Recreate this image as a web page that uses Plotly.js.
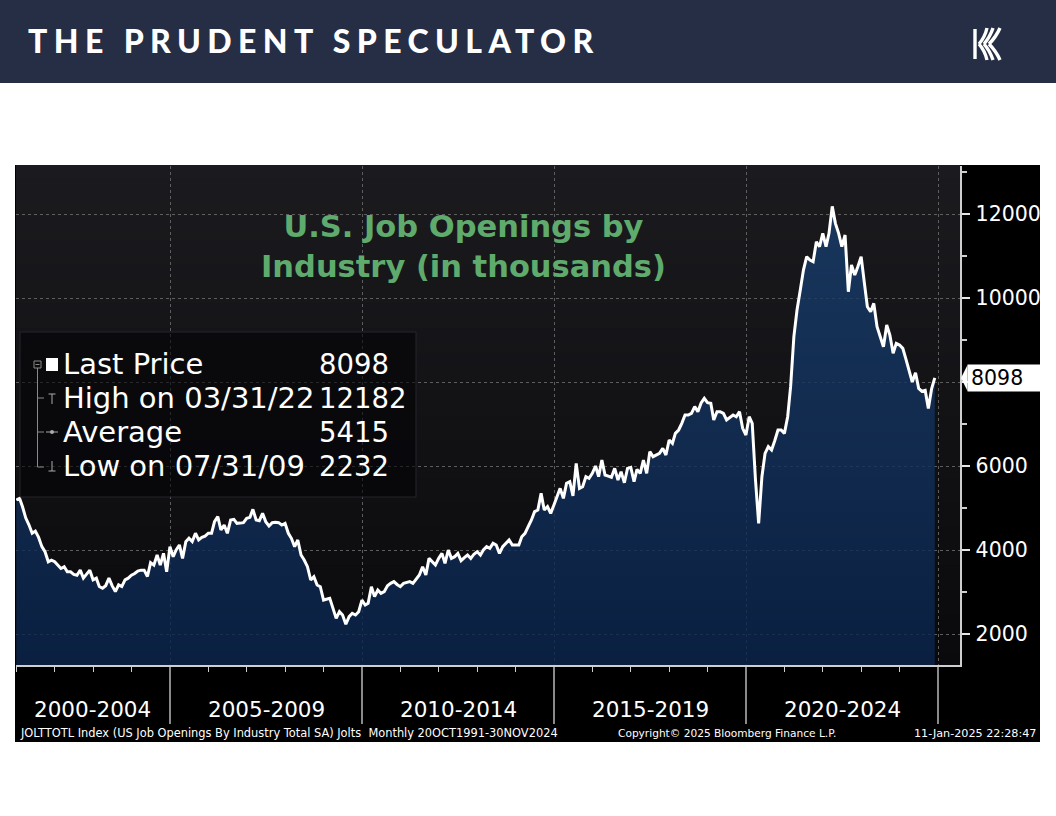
<!DOCTYPE html>
<html><head><meta charset="utf-8">
<script src="https://cdn.plot.ly/plotly-3.0.1.min.js"></script>
<style>
html,body{margin:0;padding:0;background:#fff;}
#wrap{position:relative;width:1056px;height:816px;overflow:hidden;}
#chart{position:absolute;left:0;top:0;width:1056px;height:816px;}
#hdr{position:absolute;left:0;top:0;width:1056px;height:83px;background:#252e45;z-index:5;}
#hdr .t{position:absolute;left:28px;top:23px;font-family:Lato,'DejaVu Sans',sans-serif;font-weight:900;font-size:32px;letter-spacing:6.4px;color:#fff;line-height:36px;white-space:nowrap;}
#hdr svg{position:absolute;left:971px;top:26px;}
</style></head><body>
<div id="wrap">
<div id="chart"></div>
<div id="hdr"><div class="t">THE PRUDENT SPECULATOR</div>
<svg width="34" height="36" viewBox="0 0 34 36"><g stroke="#fff" stroke-width="3.4" fill="none">
<path d="M4 3 L4 33"/>
<path d="M8 18 Q14 11 16 2"/><path d="M13 18 Q19 11 22 2"/><path d="M18 18 Q25 11 29 2"/>
<path d="M8 18 Q14 25 16 34"/><path d="M13 18 Q19 25 22 34"/><path d="M18 18 Q25 25 29 34"/>
</g></svg></div>
</div>
<script>
// ---- data (thousands), monthly, month-end, Dec 2000 .. Nov 2024 ----
const v2000 = [5190];
const v2001 = [5230,5030,4760,4600,4400,4450,4300,4080,3960,3720,3760,3720];
const v2002 = [3640,3560,3600,3480,3480,3420,3400,3520,3330,3440,3520,3290];
const v2003 = [3330,3130,3090,3150,3330,3150,3010,3170,3130,3290,3330,3400];
const v2004 = [3440,3500,3520,3520,3370,3700,3640,3880,3640,3920,3480,4080];
const v2005 = [3840,4000,4120,3800,4200,4280,4200,4400,4240,4300,4330,4400];
const v2006 = [4400,4675,4794,4476,4595,4397,4714,4730,4635,4640,4651,4754];
const v2007 = [4778,4968,4714,4698,4873,4675,4571,4651,4660,4651,4595,4635];
const v2008 = [4397,4278,4079,4238,3881,3762,3603,3286,3365,3167,3127,2809];
const v2009 = [2830,2849,2611,2373,2532,2452,2232,2413,2492,2452,2532,2809];
const v2010 = [2690,2730,3127,2889,3048,2968,3008,3150,3206,3246,3180,3127];
const v2011 = [3206,3220,3246,3206,3300,3405,3603,3405,3801,3722,3643,3801];
const v2012 = [3920,3682,4000,3801,3841,3920,3746,3820,3881,3801,3900,3960];
const v2013 = [3881,4000,4079,4040,4159,4119,3920,4079,4159,4238,4119,4119];
const v2014 = [4119,4317,4397,4556,4714,4913,4952,5349,4952,5032,4873,5071];
const v2015 = [5310,5468,5230,5587,5627,5290,6063,5468,5508,5746,5706,5825];
const v2016 = [6000,5746,6143,5786,5760,5730,5944,5667,5865,5600,5944,5968];
const v2017 = [5627,5920,5825,6143,5825,6341,6222,6260,6301,6420,6262,6619];
const v2018 = [6540,6778,6857,7016,7214,7214,7254,7413,7294,7500,7611,7508];
const v2019 = [7492,7095,7294,7294,7254,7095,7160,7214,7174,7294,6897,6738];
const v2020 = [7174,7015,5666,4634,5745,6301,6460,6380,6600,6857,6857,6777];
const v2021 = [7174,7888,9079,9714,10190,10666,10984,10904,10864,11341,11222,11539];
const v2022 = [11222,11539,12182,11777,11539,11222,11500,10150,10785,10547,10750,10984];
const v2023 = [10349,9793,9674,9872,9317,9079,8841,9357,9119,8682,8920,8880];
const v2024 = [8801,8550,8300,8000,8222,7849,7780,7800,7372,7839,8098];

const periods = ['2000-2004','2005-2009','2010-2014','2015-2019','2020-2024'];
const periodStartYears = [2000,2005,2010,2015,2020];
const yTickVals = [2000,4000,6000,8000,10000,12000];
const yTickText = ['2000','4000','6000','','10000','12000'];
const legendLabels = ['Last Price','High on 03/31/22','Average','Low on 07/31/09'];
const legendValues = ['8098','12182','5415','2232'];
const titleText = 'U.S. Job Openings by<br>Industry (in thousands)';
const footerLeft = 'JOLTTOTL Index (US Job Openings By Industry Total SA) Jolts  Monthly 20OCT1991-30NOV2024';
const footerMid = 'Copyright\u00A9 2025 Bloomberg Finance L.P.';
const footerRight = '11-Jan-2025 22:28:47';

const values = [].concat(v2000,v2001,v2002,v2003,v2004,v2005,v2006,v2007,v2008,v2009,v2010,v2011,
  v2012,v2013,v2014,v2015,v2016,v2017,v2018,v2019,v2020,v2021,v2022,v2023,v2024);
const dates = values.map((_, k) => new Date(Date.UTC(2000, 12 + k, 0)).toISOString().slice(0,10));

// ---- geometry ----
const L = 16, R = 960, T = 166, B = 665;
const px = x => (x - L) / (R - L);
const py = y => (B - y) / (B - T);
const yMin = 1262, yMax = 13143;
const xStart = '2000-12-28', xEnd = '2025-07-28';
const boundaries = [2005,2010,2015,2020,2025].map(y => y + '-01-01');

const shapes = [];
shapes.push({type:'rect', xref:'paper', yref:'paper', x0:px(15), x1:px(1040), y0:py(742), y1:py(165),
  fillcolor:'#000', line:{width:0}, layer:'below'});
const NB = 40, cTop = [27,27,31], cBot = [10,10,12];
for (let k = 0; k < NB; k++) {
  const f = (k + 0.5) / NB;
  const c = cBot.map((b, i) => Math.round(b + (cTop[i] - b) * f));
  shapes.push({type:'rect', xref:'paper', yref:'paper', x0:0, x1:1, y0:k/NB, y1:(k+1)/NB + 0.002,
    fillcolor:'rgb(' + c.join(',') + ')', line:{width:0}, layer:'below'});
}
shapes.push({type:'rect', xref:'paper', yref:'paper', x0:px(20), x1:px(416), y0:py(497), y1:py(332),
  fillcolor:'rgba(4,4,6,0.6)', line:{color:'#25252a', width:1}, layer:'above'});
const g = '#8a8a8a';
const seg = (x0,y0,x1,y1,c,w) => shapes.push({type:'line', xref:'paper', yref:'paper',
  x0:px(x0), y0:py(y0), x1:px(x1), y1:py(y1), line:{color:c||g, width:w||1}, layer:'above'});
shapes.push({type:'rect', xref:'paper', yref:'paper', x0:px(34), x1:px(41), y0:py(368), y1:py(361),
  fillcolor:'rgba(0,0,0,0)', line:{color:g, width:1}, layer:'above'});
seg(35.5,364.5,39.5,364.5);
shapes.push({type:'rect', xref:'paper', yref:'paper', x0:px(46), x1:px(58), y0:py(371), y1:py(358),
  fillcolor:'#fff', line:{width:0}, layer:'above'});
seg(37.5,368,37.5,467);
seg(37.5,398,44,398); seg(37.5,432,44,432); seg(37.5,467,44,467);
seg(52,394,52,404,'#aaa'); seg(48.5,394,55.5,394,'#aaa');
seg(46,432,58,432,'#aaa');
shapes.push({type:'circle', xref:'paper', yref:'paper', x0:px(50), x1:px(54), y0:py(434), y1:py(430),
  fillcolor:'#aaa', line:{width:0}, layer:'above'});
seg(52,461,52,471,'#aaa'); seg(48.5,471,55.5,471,'#aaa');
const lastVal = values[values.length - 1];
const yc = (lastVal - yMin) / (yMax - yMin);
const dy = 13 / (B - T);
shapes.push({type:'path', xref:'paper', yref:'paper',
  path:'M' + px(961) + ',' + yc + ' L' + px(967.5) + ',' + (yc + dy) + ' L' + px(967.5) + ',' + (yc - dy) + ' Z',
  fillcolor:'#fff', line:{width:0}, layer:'above'});

const annotations = [];
const ann = (o) => annotations.push(Object.assign({showarrow:false, xref:'paper', yref:'paper'}, o));
ann({text:'<b>' + titleText + '</b>', x:px(463), y:py(246), xanchor:'center', yanchor:'middle',
  font:{family:'DejaVu Sans', size:30.5, color:'#5fab6d'}, align:'center'});
const rows = [364, 398, 432, 466];
legendLabels.forEach((t, i) => {
  ann({text:t, x:px(61), y:py(rows[i]), xanchor:'left', yanchor:'middle',
    font:{family:'DejaVu Sans', size:29, color:'#fff'}});
  ann({text:legendValues[i], x:px(317), y:py(rows[i]), xanchor:'left', yanchor:'middle',
    font:{family:'DejaVu Sans', size:27.5, color:'#fff'}});
});
const xs = new Date(xStart + 'T00:00:00Z').getTime();
periods.forEach((p, i) => {
  const s = Math.max(Date.UTC(periodStartYears[i],0,1), xs);
  const e = Date.UTC(periodStartYears[i] + 5, 0, 1);
  const mid = new Date((s + e) / 2).toISOString().slice(0,10);
  ann({text:p, xref:'x', x:mid, y:py(709), xanchor:'center', yanchor:'middle',
    font:{family:'DejaVu Sans', size:21.5, color:'#fff'}});
});
ann({text:footerLeft, x:px(18), y:py(733), xanchor:'left', yanchor:'middle',
  font:{family:'DejaVu Sans', size:11.4, color:'#fff'}});
ann({text:footerMid, x:px(727), y:py(733), xanchor:'center', yanchor:'middle',
  font:{family:'DejaVu Sans', size:10.6, color:'#fff'}});
ann({text:footerRight, x:px(1038), y:py(733), xanchor:'right', yanchor:'middle',
  font:{family:'DejaVu Sans', size:11.2, color:'#fff'}});
ann({text:String(lastVal), x:px(967), yref:'y', y:lastVal, xanchor:'left', yanchor:'middle',
  width:66, height:20, borderpad:3, bgcolor:'#fff', align:'left',
  font:{family:'DejaVu Sans', size:20.5, color:'#000'}});

const trace = {
  type:'scatter', mode:'lines', x:dates, y:values,
  line:{color:'#ffffff', width:3},
  fill:'tozeroy',
  fillgradient:{type:'vertical', start:yMin, stop:12200,
    colorscale:[[0,'rgba(10,36,76,0.82)'],[1,'rgba(24,60,106,0.82)']]},
  hoverinfo:'skip'
};

const layout = {
  width:1056, height:816, margin:{l:L, r:1056-R, t:T, b:816-B, pad:0},
  paper_bgcolor:'#ffffff', plot_bgcolor:'rgba(0,0,0,0)', showlegend:false,
  font:{family:'DejaVu Sans', color:'#fff'},
  xaxis:{type:'date', range:[xStart, xEnd], tickmode:'array', tickvals:boundaries,
    ticktext:boundaries.map(() => ''), ticks:'outside', ticklen:57, tickwidth:1.5, tickcolor:'#8a8a8a',
    showgrid:true, gridcolor:'#5e5e5e', griddash:'dot', gridwidth:1,
    showline:true, linecolor:'#cfcfcf', linewidth:1.5, zeroline:false,
    minor:{dtick:'M12', tick0:'2001-01-01', ticks:'outside', ticklen:5, tickwidth:1.2, tickcolor:'#cfcfcf', showgrid:false}},
  yaxis:{side:'right', range:[yMin, yMax], tickmode:'array', tickvals:yTickVals, ticktext:yTickText,
    ticks:'outside', ticklen:8, tickwidth:1.5, tickcolor:'#e6e6e6', ticklabelstandoff:2,
    tickfont:{family:'DejaVu Sans', size:20.5, color:'#fff'},
    showgrid:true, gridcolor:'#5e5e5e', griddash:'dot', gridwidth:1,
    showline:true, linecolor:'#cfcfcf', linewidth:1.5, zeroline:false,
    minor:{dtick:1000, tick0:0, ticks:'outside', ticklen:5, tickwidth:1.2, tickcolor:'#cfcfcf', showgrid:false}},
  shapes:shapes, annotations:annotations
};

Plotly.newPlot('chart', [trace], layout, {staticPlot:true, displayModeBar:false});
</script>
</body></html>
